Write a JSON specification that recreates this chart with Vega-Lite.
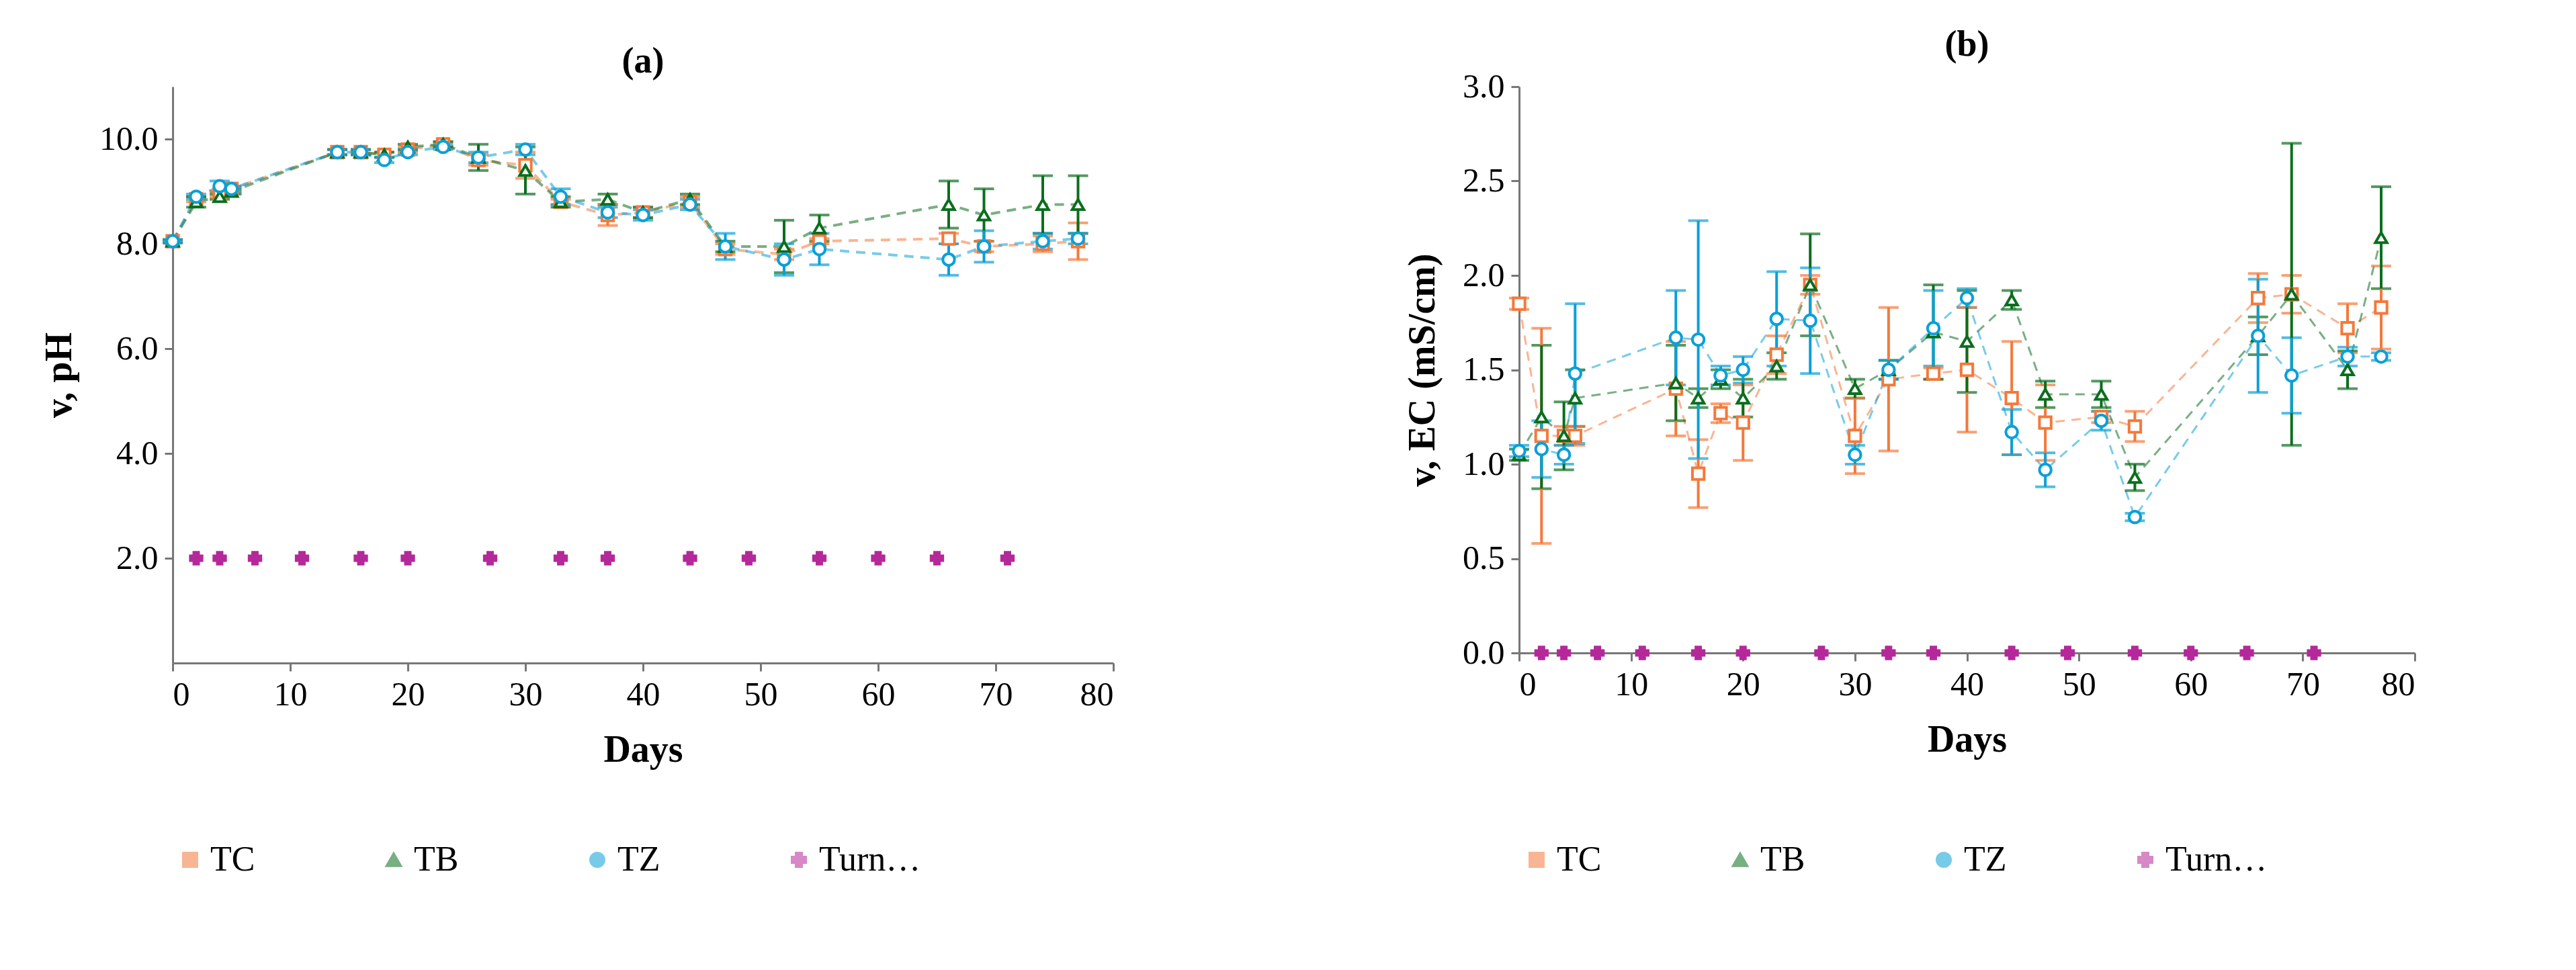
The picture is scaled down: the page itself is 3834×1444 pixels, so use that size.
{
  "$schema": "https://vega.github.io/schema/vega-lite/v6.json",
  "background": "white",
  "padding": {"left": 60, "top": 40, "right": 20, "bottom": 10},
  "spacing": 430,
  "datasets": {
    "ph": [
      {"s":"TC","d":0,"v":8.05,"e":0.03},{"s":"TC","d":2,"v":8.85,"e":0.05},{"s":"TC","d":4,"v":8.95,"e":0.05},{"s":"TC","d":5,"v":9.05,"e":0.05},{"s":"TC","d":14,"v":9.75,"e":0.05},{"s":"TC","d":16,"v":9.75,"e":0.05},{"s":"TC","d":18,"v":9.7,"e":0.05},{"s":"TC","d":20,"v":9.8,"e":0.05},{"s":"TC","d":23,"v":9.9,"e":0.05},{"s":"TC","d":26,"v":9.6,"e":0.1},{"s":"TC","d":30,"v":9.5,"e":0.25},{"s":"TC","d":33,"v":8.8,"e":0.05},{"s":"TC","d":37,"v":8.55,"e":0.2},{"s":"TC","d":40,"v":8.6,"e":0.1},{"s":"TC","d":44,"v":8.8,"e":0.1},{"s":"TC","d":47,"v":7.9,"e":0.1},{"s":"TC","d":52,"v":7.8,"e":0.1},{"s":"TC","d":55,"v":8.05,"e":0.05},{"s":"TC","d":66,"v":8.1,"e":0.1},{"s":"TC","d":69,"v":7.95,"e":0.1},{"s":"TC","d":74,"v":8.0,"e":0.15},{"s":"TC","d":77,"v":8.05,"e":0.35},
      {"s":"TB","d":0,"v":8.05,"e":0.03},{"s":"TB","d":2,"v":8.8,"e":0.1},{"s":"TB","d":4,"v":8.9,"e":0.05},{"s":"TB","d":5,"v":9.0,"e":0.05},{"s":"TB","d":14,"v":9.75,"e":0.05},{"s":"TB","d":16,"v":9.75,"e":0.05},{"s":"TB","d":18,"v":9.7,"e":0.05},{"s":"TB","d":20,"v":9.85,"e":0.05},{"s":"TB","d":23,"v":9.9,"e":0.05},{"s":"TB","d":26,"v":9.65,"e":0.25},{"s":"TB","d":30,"v":9.4,"e":0.45},{"s":"TB","d":33,"v":8.8,"e":0.1},{"s":"TB","d":37,"v":8.85,"e":0.1},{"s":"TB","d":40,"v":8.6,"e":0.1},{"s":"TB","d":44,"v":8.85,"e":0.1},{"s":"TB","d":47,"v":7.95,"e":0.1},{"s":"TB","d":52,"v":7.95,"e":0.5},{"s":"TB","d":55,"v":8.3,"e":0.25},{"s":"TB","d":66,"v":8.75,"e":0.45},{"s":"TB","d":69,"v":8.55,"e":0.5},{"s":"TB","d":74,"v":8.75,"e":0.55},{"s":"TB","d":77,"v":8.75,"e":0.55},
      {"s":"TZ","d":0,"v":8.05,"e":0.03},{"s":"TZ","d":2,"v":8.9,"e":0.05},{"s":"TZ","d":4,"v":9.1,"e":0.1},{"s":"TZ","d":5,"v":9.05,"e":0.05},{"s":"TZ","d":14,"v":9.75,"e":0.05},{"s":"TZ","d":16,"v":9.75,"e":0.05},{"s":"TZ","d":18,"v":9.6,"e":0.05},{"s":"TZ","d":20,"v":9.75,"e":0.05},{"s":"TZ","d":23,"v":9.85,"e":0.05},{"s":"TZ","d":26,"v":9.65,"e":0.1},{"s":"TZ","d":30,"v":9.8,"e":0.1},{"s":"TZ","d":33,"v":8.9,"e":0.15},{"s":"TZ","d":37,"v":8.6,"e":0.1},{"s":"TZ","d":40,"v":8.55,"e":0.1},{"s":"TZ","d":44,"v":8.75,"e":0.1},{"s":"TZ","d":47,"v":7.95,"e":0.25},{"s":"TZ","d":52,"v":7.7,"e":0.3},{"s":"TZ","d":55,"v":7.9,"e":0.3},{"s":"TZ","d":66,"v":7.7,"e":0.3},{"s":"TZ","d":69,"v":7.95,"e":0.3},{"s":"TZ","d":74,"v":8.05,"e":0.15},{"s":"TZ","d":77,"v":8.1,"e":0.1},
      {"s":"Turning","d":2,"v":2},{"s":"Turning","d":4,"v":2},{"s":"Turning","d":7,"v":2},{"s":"Turning","d":11,"v":2},{"s":"Turning","d":16,"v":2},{"s":"Turning","d":20,"v":2},{"s":"Turning","d":27,"v":2},{"s":"Turning","d":33,"v":2},{"s":"Turning","d":37,"v":2},{"s":"Turning","d":44,"v":2},{"s":"Turning","d":49,"v":2},{"s":"Turning","d":55,"v":2},{"s":"Turning","d":60,"v":2},{"s":"Turning","d":65,"v":2},{"s":"Turning","d":71,"v":2}
    ],
    "ec": [
      {"s":"TC","d":0,"v":1.85,"e":0.03},{"s":"TC","d":2,"v":1.15,"e":0.57},{"s":"TC","d":4,"v":1.15,"e":0.05},{"s":"TC","d":5,"v":1.15,"e":0.05},{"s":"TC","d":14,"v":1.4,"e":0.25},{"s":"TC","d":16,"v":0.95,"e":0.18},{"s":"TC","d":18,"v":1.27,"e":0.05},{"s":"TC","d":20,"v":1.22,"e":0.2},{"s":"TC","d":23,"v":1.58,"e":0.1},{"s":"TC","d":26,"v":1.95,"e":0.05},{"s":"TC","d":30,"v":1.15,"e":0.2},{"s":"TC","d":33,"v":1.45,"e":0.38},{"s":"TC","d":37,"v":1.48,"e":0.03},{"s":"TC","d":40,"v":1.5,"e":0.33},{"s":"TC","d":44,"v":1.35,"e":0.3},{"s":"TC","d":47,"v":1.22,"e":0.2},{"s":"TC","d":52,"v":1.25,"e":0.03},{"s":"TC","d":55,"v":1.2,"e":0.08},{"s":"TC","d":66,"v":1.88,"e":0.13},{"s":"TC","d":69,"v":1.9,"e":0.1},{"s":"TC","d":74,"v":1.72,"e":0.13},{"s":"TC","d":77,"v":1.83,"e":0.22},
      {"s":"TB","d":0,"v":1.05,"e":0.03},{"s":"TB","d":2,"v":1.25,"e":0.38},{"s":"TB","d":4,"v":1.15,"e":0.18},{"s":"TB","d":5,"v":1.35,"e":0.15},{"s":"TB","d":14,"v":1.43,"e":0.2},{"s":"TB","d":16,"v":1.35,"e":0.05},{"s":"TB","d":18,"v":1.45,"e":0.05},{"s":"TB","d":20,"v":1.35,"e":0.1},{"s":"TB","d":23,"v":1.52,"e":0.07},{"s":"TB","d":26,"v":1.95,"e":0.27},{"s":"TB","d":30,"v":1.4,"e":0.05},{"s":"TB","d":33,"v":1.5,"e":0.05},{"s":"TB","d":37,"v":1.7,"e":0.25},{"s":"TB","d":40,"v":1.65,"e":0.27},{"s":"TB","d":44,"v":1.87,"e":0.05},{"s":"TB","d":47,"v":1.37,"e":0.07},{"s":"TB","d":52,"v":1.37,"e":0.07},{"s":"TB","d":55,"v":0.93,"e":0.07},{"s":"TB","d":66,"v":1.68,"e":0.1},{"s":"TB","d":69,"v":1.9,"e":0.8},{"s":"TB","d":74,"v":1.5,"e":0.1},{"s":"TB","d":77,"v":2.2,"e":0.27},
      {"s":"TZ","d":0,"v":1.07,"e":0.03},{"s":"TZ","d":2,"v":1.08,"e":0.15},{"s":"TZ","d":4,"v":1.05,"e":0.05},{"s":"TZ","d":5,"v":1.48,"e":0.37},{"s":"TZ","d":14,"v":1.67,"e":0.25},{"s":"TZ","d":16,"v":1.66,"e":0.63},{"s":"TZ","d":18,"v":1.47,"e":0.05},{"s":"TZ","d":20,"v":1.5,"e":0.07},{"s":"TZ","d":23,"v":1.77,"e":0.25},{"s":"TZ","d":26,"v":1.76,"e":0.28},{"s":"TZ","d":30,"v":1.05,"e":0.05},{"s":"TZ","d":33,"v":1.5,"e":0.05},{"s":"TZ","d":37,"v":1.72,"e":0.2},{"s":"TZ","d":40,"v":1.88,"e":0.05},{"s":"TZ","d":44,"v":1.17,"e":0.12},{"s":"TZ","d":47,"v":0.97,"e":0.09},{"s":"TZ","d":52,"v":1.23,"e":0.05},{"s":"TZ","d":55,"v":0.72,"e":0.02},{"s":"TZ","d":66,"v":1.68,"e":0.3},{"s":"TZ","d":69,"v":1.47,"e":0.2},{"s":"TZ","d":74,"v":1.57,"e":0.05},{"s":"TZ","d":77,"v":1.57,"e":0.02},
      {"s":"Turning","d":2,"v":0},{"s":"Turning","d":4,"v":0},{"s":"Turning","d":7,"v":0},{"s":"Turning","d":11,"v":0},{"s":"Turning","d":16,"v":0},{"s":"Turning","d":20,"v":0},{"s":"Turning","d":27,"v":0},{"s":"Turning","d":33,"v":0},{"s":"Turning","d":37,"v":0},{"s":"Turning","d":44,"v":0},{"s":"Turning","d":49,"v":0},{"s":"Turning","d":55,"v":0},{"s":"Turning","d":60,"v":0},{"s":"Turning","d":65,"v":0},{"s":"Turning","d":71,"v":0}
    ]
  },
  "resolve": {"scale": {"color": "independent", "shape": "independent", "y": "independent"}, "legend": {"color": "independent", "shape": "independent"}},
  "hconcat": [
    {
      "title": "(a)",
      "width": 1400,
      "height": 858,
      "data": {"name": "ph"},
      "encoding": {
        "x": {"field": "d", "type": "quantitative", "title": "Days", "scale": {"domain": [0, 80], "nice": false}, "axis": {"values": [0,10,20,30,40,50,60,70,80]}},
        "color": {"field": "s", "type": "nominal", "title": null, "scale": {"domain": ["TC","TB","TZ","Turning"], "range": ["#F4793B","#0B6E1E","#0AA0D8","#B5289A"]}, "legend": {"orient": "bottom", "direction": "horizontal", "offset": 110, "columnPadding": 180}}
      },
      "layer": [
        {"transform": [{"filter": "datum.s != 'Turning'"}], "mark": {"type": "line", "strokeDash": [14, 10], "strokeWidth": 4, "opacity": 0.55}, "encoding": {"y": {"field": "v", "type": "quantitative"}}},
        {"transform": [{"filter": "datum.s != 'Turning'"}], "mark": {"type": "errorbar", "ticks": {"size": 30}, "thickness": 4}, "encoding": {"y": {"field": "v", "type": "quantitative"}, "yError": {"field": "e"}}},
        {"mark": {"type": "point", "filled": false, "strokeWidth": 4, "size": 300, "opacity": 1},
         "encoding": {"y": {"field": "v", "type": "quantitative", "title": "pH", "scale": {"domain": [2, 11], "nice": false}, "axis": {"values": [2,4,6,8,10]}},
           "shape": {"field": "s", "type": "nominal", "title": null, "scale": {"domain": ["TC","TB","TZ","Turning"], "range": ["square","triangle-up","circle","cross"]}, "legend": {"orient": "bottom", "direction": "horizontal", "offset": 110, "columnPadding": 180}},
           "fill": {"condition": {"test": "datum.s == 'Turning'", "value": "#B5289A"}, "value": "white"}}}
      ]
    },
    {
      "title": "(b)",
      "width": 1333,
      "height": 843,
      "data": {"name": "ec"},
      "encoding": {
        "x": {"field": "d", "type": "quantitative", "title": "Days", "scale": {"domain": [0, 80], "nice": false}, "axis": {"values": [0,10,20,30,40,50,60,70,80]}},
        "color": {"field": "s", "type": "nominal", "title": null, "scale": {"domain": ["TC","TB","TZ","Turning"], "range": ["#F4793B","#0B6E1E","#0AA0D8","#B5289A"]}, "legend": {"orient": "bottom", "direction": "horizontal", "offset": 125, "columnPadding": 180}}
      },
      "layer": [
        {"transform": [{"filter": "datum.s != 'Turning'"}], "mark": {"type": "line", "strokeDash": [14, 10], "strokeWidth": 3, "opacity": 0.55}, "encoding": {"y": {"field": "v", "type": "quantitative"}}},
        {"transform": [{"filter": "datum.s != 'Turning'"}], "mark": {"type": "errorbar", "ticks": {"size": 30}, "thickness": 4}, "encoding": {"y": {"field": "v", "type": "quantitative"}, "yError": {"field": "e"}}},
        {"mark": {"type": "point", "filled": false, "strokeWidth": 4, "size": 300, "opacity": 1},
         "encoding": {"y": {"field": "v", "type": "quantitative", "title": "EC (mS/cm)", "scale": {"domain": [0, 3], "nice": false}, "axis": {"values": [0,0.5,1,1.5,2,2.5,3], "format": ".1f"}},
           "shape": {"field": "s", "type": "nominal", "title": null, "scale": {"domain": ["TC","TB","TZ","Turning"], "range": ["square","triangle-up","circle","cross"]}, "legend": {"orient": "bottom", "direction": "horizontal", "offset": 125, "columnPadding": 180}},
           "fill": {"condition": {"test": "datum.s == 'Turning'", "value": "#B5289A"}, "value": "white"}}}
      ]
    }
  ],
  "config": {
    "font": "Liberation Serif",
    "view": {"stroke": null},
    "title": {"fontSize": 54, "fontWeight": "bold", "font": "Liberation Serif", "offset": 10},
    "axis": {"grid": false, "labelFontSize": 50, "titleFontSize": 56, "titleFontWeight": "bold", "domainColor": "#777", "domainWidth": 3, "tickColor": "#777", "tickWidth": 3, "tickSize": 12, "labelColor": "black", "titleColor": "black", "labelPadding": 10},
    "axisX": {"titlePadding": 30},
    "axisY": {"titlePadding": 30},
    "legend": {"labelFontSize": 52, "symbolSize": 400, "symbolStrokeWidth": 4, "labelColor": "black"}
  }
}
